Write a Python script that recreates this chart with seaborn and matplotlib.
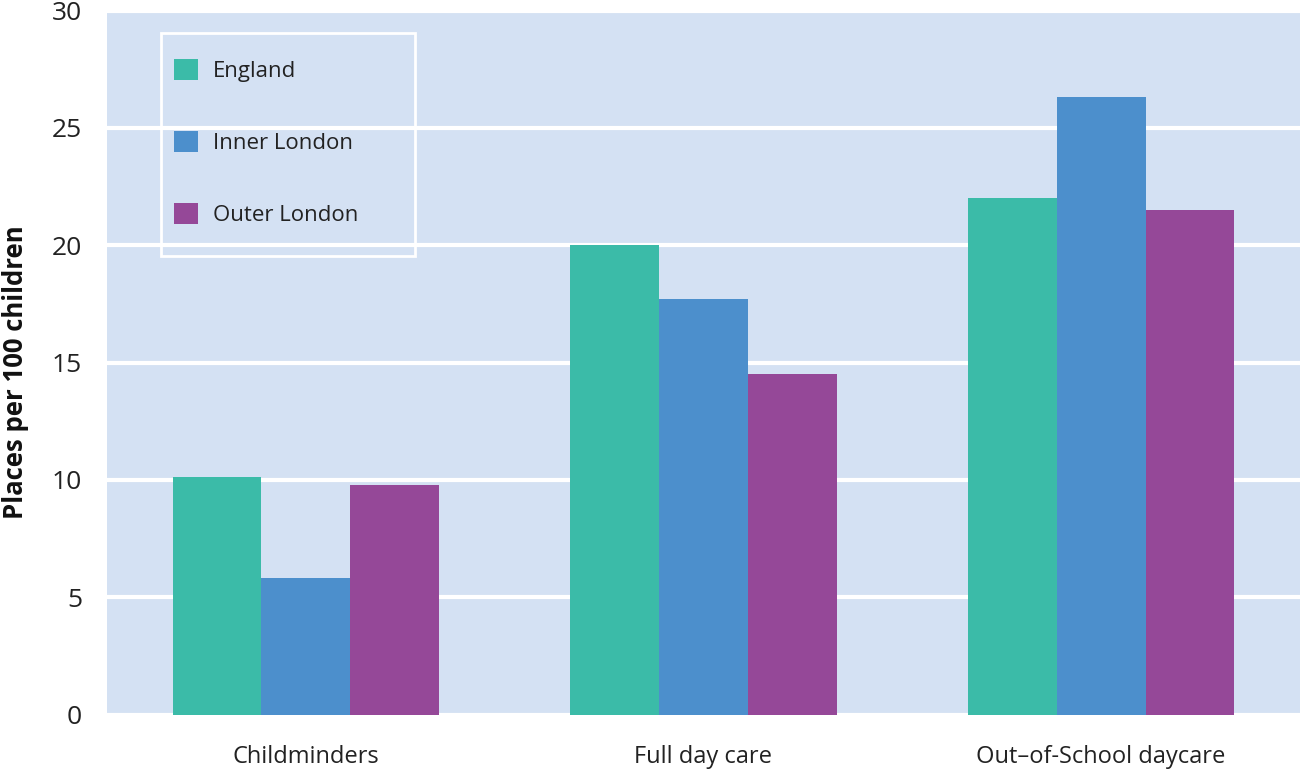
import matplotlib
matplotlib.use("Agg")
import matplotlib.pyplot as plt
from matplotlib.patches import Rectangle
import seaborn as sns
import pandas as pd

# Childcare places per 100 children, by provider type and area
categories = ["Childminders", "Full day care", "Out\u2013of-School daycare"]
areas = ["England", "Inner London", "Outer London"]
england = [10.1, 20.0, 22.0]
inner_london = [5.8, 17.7, 26.3]
outer_london = [9.8, 14.5, 21.5]
colors = ["#3bbba8", "#4c8fcc", "#954898"]
y_ticks = [0, 5, 10, 15, 20, 25, 30]

df = pd.DataFrame({
    "category": categories * 3,
    "area": [areas[0]] * 3 + [areas[1]] * 3 + [areas[2]] * 3,
    "value": england + inner_london + outer_london,
})

sns.set_theme(style="darkgrid")
plt.rcParams["font.family"] = ["Open Sans", "DejaVu Sans"]

fig = plt.figure(figsize=(13, 7.72), dpi=100)
ax = fig.add_axes([107 / 1300, 57.5 / 772, 1 - 107 / 1300, 704 / 772])
ax.set_facecolor("#d4e1f3")

sns.barplot(data=df, x="category", y="value", hue="area", order=categories,
            hue_order=areas, palette=colors, width=0.67, saturation=1,
            linewidth=0, ax=ax)

ax.set_ylim(0, 30)
ax.set_xlim(-0.5, 2.5)
ax.set_yticks(y_ticks)
ax.grid(axis="y", color="white", linewidth=3)
ax.grid(axis="x", visible=False)
ax.set_axisbelow(True)
for s in ax.spines.values():
    s.set_visible(False)

ax.tick_params(axis="both", length=0, colors="#222222")
ax.tick_params(axis="y", pad=18, labelsize=19)
ax.tick_params(axis="x", pad=22, labelsize=17)
ax.set_xlabel("")
ax.set_ylabel("Places per 100 children", fontsize=18.5, fontweight="bold",
              color="#111111")
ax.yaxis.set_label_coords(-0.0655, 0.4865)

# legend with an explicit white outline box
leg = ax.legend(loc="upper left", bbox_to_anchor=(0.047, 0.947), frameon=False,
                fontsize=16, handlelength=1.05, handleheight=1.05,
                handletextpad=0.7, labelspacing=2.22, borderpad=0)
for t in leg.get_texts():
    t.set_color("#222222")
ax.add_patch(Rectangle((54 / 1193, (714.5 - 256) / 704), 254 / 1193, 223 / 704,
                       transform=ax.transAxes, facecolor="none",
                       edgecolor="white", linewidth=2, zorder=5))

fig.savefig("out.png", dpi=100)
